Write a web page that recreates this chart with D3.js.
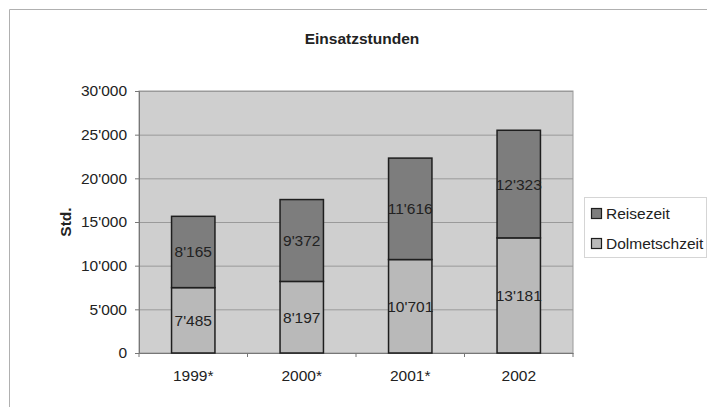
<!DOCTYPE html>
<html>
<head>
<meta charset="utf-8">
<script src="https://cdn.jsdelivr.net/npm/d3@7"></script>
<style>
  body { margin: 0; background: #fff; }
  svg { display: block; font-family: Arial, "Liberation Sans", sans-serif; }
</style>
</head>
<body>
<script>
// Daten
const years = ["1999*", "2000*", "2001*", "2002"];
const dolmetschzeit = [7485, 8197, 10701, 13181];
const reisezeit = [8165, 9372, 11616, 12323];
const yTicks = [0, 5000, 10000, 15000, 20000, 25000, 30000];

const w = 707;
const h = 407;
const fs = "15.5px";

// Plotbereich
const plotLeft = 139, plotRight = 573, plotTop = 91, plotBottom = 353;

// Zahlen mit Apostroph als Tausendertrennzeichen
const fmt = d3.formatLocale({ decimal: ".", thousands: "'", grouping: [3], currency: ["", ""] }).format(",d");

const svg = d3.select("body").append("svg").attr("width", w).attr("height", h);

// Rahmen um das ganze Diagramm
svg.append("path")
  .attr("d", "M9.5," + h + " V9.5 H" + w)
  .attr("fill", "none")
  .attr("stroke", "#b0b0b0")
  .attr("stroke-width", 1);

// Titel
svg.append("text")
  .attr("x", 362).attr("y", 44)
  .attr("text-anchor", "middle")
  .style("font-size", fs).style("font-weight", "bold")
  .attr("fill", "#222")
  .text("Einsatzstunden");

const xScale = d3.scaleBand()
  .domain(years)
  .range([plotLeft, plotRight])
  .paddingInner(0.6)
  .paddingOuter(0.3);

const yScale = d3.scaleLinear().domain([0, 30000]).range([plotBottom, plotTop]);

// Hintergrund des Plotbereichs
svg.append("rect")
  .attr("x", plotLeft).attr("y", plotTop)
  .attr("width", plotRight - plotLeft).attr("height", plotBottom - plotTop)
  .attr("fill", "#cfcfcf")
  .attr("stroke", "#9a9a9a");

// Gitterlinien
svg.append("g")
  .selectAll("line")
  .data(yTicks.slice(1))
  .enter()
  .append("line")
  .attr("x1", plotLeft).attr("x2", plotRight)
  .attr("y1", d => yScale(d) + 0.5).attr("y2", d => yScale(d) + 0.5)
  .attr("stroke", "#9a9a9a");

// Y-Achse
const yAxis = d3.axisLeft(yScale).tickValues(yTicks).tickFormat(fmt).tickSize(4).tickPadding(8);
const gy = svg.append("g")
  .attr("transform", "translate(" + plotLeft + ",0)")
  .call(yAxis);
gy.select(".domain").attr("stroke", "#777");
gy.selectAll(".tick line").attr("stroke", "#777");
gy.selectAll("text").style("font-size", fs).attr("fill", "#222").style("font-family", "Arial, 'Liberation Sans', sans-serif");

// X-Achse
const xAxis = d3.axisBottom(xScale).tickSizeInner(0).tickSizeOuter(0).tickPadding(17);
const gx = svg.append("g")
  .attr("transform", "translate(0," + plotBottom + ")")
  .call(xAxis);
gx.select(".domain").attr("stroke", "#777");
gx.selectAll("text").style("font-size", fs).attr("fill", "#222").style("font-family", "Arial, 'Liberation Sans', sans-serif");

// Teilstriche zwischen den Kategorien
const step = xScale.step();
gx.append("g")
  .selectAll("line")
  .data(d3.range(years.length + 1))
  .enter()
  .append("line")
  .attr("x1", i => plotLeft + i * step).attr("x2", i => plotLeft + i * step)
  .attr("y1", 0).attr("y2", 4)
  .attr("stroke", "#777");

// Gestapelte Daten
const stackData = years.map((y, i) => ({ year: y, dolm: dolmetschzeit[i], reise: reisezeit[i] }));
const series = d3.stack().keys(["dolm", "reise"])(stackData);
const colors = { dolm: "#b9b9b9", reise: "#7d7d7d" };

const groups = svg.append("g")
  .selectAll("g")
  .data(series)
  .enter()
  .append("g")
  .attr("fill", d => colors[d.key]);

groups.selectAll("rect")
  .data(d => d)
  .enter()
  .append("rect")
  .attr("x", d => xScale(d.data.year))
  .attr("y", d => yScale(d[1]))
  .attr("width", xScale.bandwidth())
  .attr("height", d => yScale(d[0]) - yScale(d[1]))
  .attr("stroke", "#1e1e1e")
  .attr("stroke-width", 1.5);

// Datenbeschriftungen
groups.selectAll("text")
  .data(d => d)
  .enter()
  .append("text")
  .attr("x", d => xScale(d.data.year) + xScale.bandwidth() / 2)
  .attr("y", d => yScale((d[0] + d[1]) / 2) + 5.5)
  .attr("text-anchor", "middle")
  .attr("fill", "#222")
  .style("font-size", fs)
  .text(d => fmt(d[1] - d[0]));

// Achsentitel
svg.append("text")
  .attr("transform", "translate(71,222) rotate(-90)")
  .attr("text-anchor", "middle")
  .style("font-size", fs).style("font-weight", "bold")
  .attr("fill", "#222")
  .text("Std.");

// Legende
const legend = svg.append("g").attr("transform", "translate(584,197)");
legend.append("rect")
  .attr("x", 0.5).attr("y", 0.5).attr("width", 122).attr("height", 60)
  .attr("fill", "#fff").attr("stroke", "#aaa").attr("stroke-dasharray", "1,1");

const legendItems = [
  { label: "Reisezeit", key: "reise" },
  { label: "Dolmetschzeit", key: "dolm" }
];
const li = legend.selectAll(".item")
  .data(legendItems)
  .enter()
  .append("g")
  .attr("class", "item")
  .attr("transform", (d, i) => "translate(7," + (16 + i * 30) + ")");
li.append("rect")
  .attr("x", 0.5).attr("y", -4.5).attr("width", 10).attr("height", 10)
  .attr("fill", d => colors[d.key]).attr("stroke", "#1e1e1e").attr("stroke-width", 1.2);
li.append("text")
  .attr("x", 15).attr("y", 6)
  .attr("fill", "#222")
  .style("font-size", fs)
  .text(d => d.label);
</script>
</body>
</html>
